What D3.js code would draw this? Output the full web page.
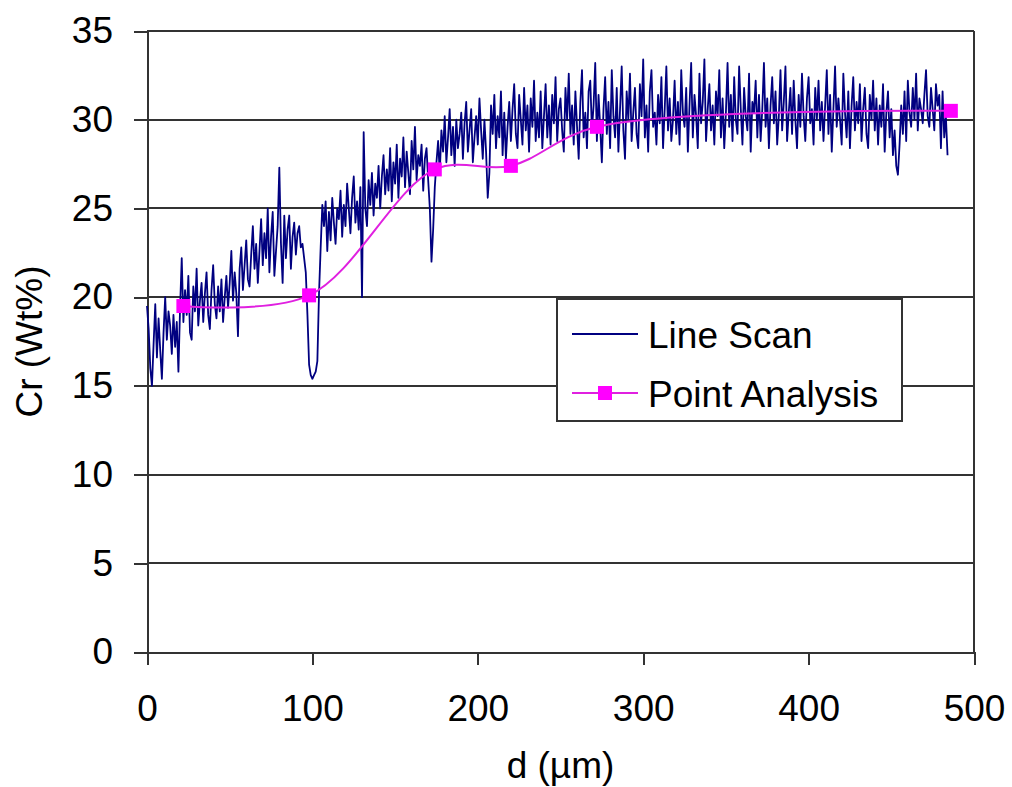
<!DOCTYPE html>
<meta charset="utf-8">
<head>
  <title>Cr line scan</title>
  <script src="https://d3js.org/d3.v7.min.js"></script>
  <style>
    body { margin: 0; background: #fff; }
    text { font-family: "Liberation Sans", Arial, sans-serif; fill: #000; }
    .axis path, .axis line { stroke: #333; stroke-width: 2; shape-rendering: crispEdges; }
    .axis text { font-size: 37px; }
    .grid line { stroke: #333; stroke-width: 2; shape-rendering: crispEdges; }
  </style>
</head>
<body>
<div id="chart"></div>
<script>

// tick labels
var xTicks = [0, 100, 200, 300, 400, 500];
var yTicks = [0, 5, 10, 15, 20, 25, 30, 35];

// line scan, one reading per µm from 0 to 484 µm (Cr, wt%), ten per row
var scanStep = 1;
var scanValues = [
  19.5, 18.2, 16.0, 15.0, 17.4, 19.6, 16.6, 18.8, 17.0, 15.4,
  18.0, 20.0, 17.6, 19.2, 18.4, 16.8, 19.0, 17.2, 18.6, 15.8,
  19.4, 22.2, 18.6, 20.4, 19.0, 21.2, 18.0, 17.6, 20.6, 19.2,
  21.6, 18.4, 19.8, 20.8, 18.6, 20.2, 21.4, 19.0, 18.2, 20.4,
  21.8, 19.6, 18.8, 20.6, 19.2, 21.0, 18.6, 20.0, 21.2, 19.4,
  20.8, 22.6, 19.8, 21.4, 20.2, 17.8, 21.6, 22.8, 20.4, 21.8,
  23.2, 21.0, 20.6, 22.4, 24.0, 21.6, 23.0, 20.8, 22.6, 24.4,
  21.8, 23.6, 22.2, 25.0, 21.4, 23.4, 24.8, 21.2, 22.6, 24.0,
  27.3, 23.0, 20.8, 24.6, 22.2, 23.8, 24.6, 21.6, 23.4, 24.2,
  22.4, 23.6, 24.0, 22.8, 23.0, 22.2, 21.4, 19.0, 16.2, 15.6,
  15.4, 15.6, 15.8, 16.4, 20.2, 22.8, 25.2, 24.0, 25.4, 22.6,
  24.8, 23.2, 25.6, 24.2, 23.0, 25.0, 24.4, 26.0, 23.4, 25.2,
  24.0, 26.4, 25.0, 23.6, 25.6, 26.8, 24.2, 25.4, 23.8, 26.2,
  20.0, 29.3, 25.0, 24.0, 26.6, 25.2, 27.0, 24.6, 26.4, 25.6,
  27.4, 25.0, 26.8, 28.0, 25.8, 27.2, 26.0, 28.4, 25.4, 27.6,
  26.4, 28.6, 25.6, 27.8, 26.8, 29.0, 26.2, 28.2, 27.0, 25.8,
  28.8, 27.2, 29.6, 26.6, 28.0, 27.4, 28.6, 26.0, 27.8, 28.4,
  26.6, 25.0, 22.0, 23.8, 26.2, 27.6, 28.8, 27.0, 29.4, 28.2,
  30.2, 27.6, 29.0, 30.6, 28.0, 29.6, 27.4, 30.0, 28.4, 29.2,
  30.4, 27.8, 29.8, 31.0, 28.2, 29.4, 30.6, 27.6, 29.0, 30.2,
  28.6, 31.2, 29.4, 27.8, 30.0, 28.2, 25.6, 27.0, 30.8, 29.2,
  31.4, 28.4, 30.2, 29.0, 31.6, 28.0, 30.4, 27.8, 29.6, 31.0,
  28.8, 30.6, 32.0, 29.2, 28.4, 31.4, 30.0, 28.6, 31.8, 29.4,
  30.8, 28.2, 31.2, 29.6, 32.2, 28.8, 30.4, 29.0, 31.6, 28.4,
  30.2, 32.0, 29.0, 30.8, 28.6, 31.4, 29.8, 32.4, 28.8, 30.6,
  31.2, 29.4, 28.2, 31.8, 30.0, 32.6, 29.2, 30.8, 28.6, 31.6,
  29.6, 27.8, 31.0, 32.8, 29.0, 30.4, 28.4, 31.6, 32.2, 29.4,
  30.8, 33.2, 28.8, 31.4, 29.6, 27.6, 30.6, 32.4, 29.2, 31.0,
  28.4, 32.8, 30.2, 29.0, 31.8, 28.2, 30.6, 33.0, 29.4, 27.8,
  31.6, 30.0, 32.6, 28.8, 30.4, 31.8, 29.2, 28.4, 32.0, 30.2,
  33.4, 29.0, 30.8, 28.2, 31.6, 32.8, 29.6, 30.4, 28.6, 31.4,
  29.8, 32.4, 28.4, 30.6, 33.0, 29.4, 31.2, 28.8, 30.0, 32.2,
  29.2, 31.0, 28.6, 32.8, 30.4, 29.6, 31.8, 28.2, 30.8, 33.2,
  29.0, 31.4, 30.2, 28.4, 32.6, 29.8, 31.0, 33.4, 28.8, 30.6,
  32.0, 29.4, 30.8, 28.6, 31.6, 30.2, 32.8, 29.0, 31.2, 28.4,
  30.4, 33.2, 29.6, 31.4, 28.8, 32.4, 30.0, 29.2, 33.0, 30.6,
  28.6, 31.8, 30.2, 29.4, 32.6, 28.2, 31.0, 30.4, 32.2, 29.0,
  31.4, 28.8, 30.6, 33.2, 29.6, 31.2, 28.4, 30.8, 32.4, 29.8,
  31.6, 28.6, 30.2, 32.8, 29.4, 31.0, 33.0, 28.8, 30.4, 31.8,
  29.2, 32.2, 30.0, 28.4, 31.4, 29.6, 32.6, 30.2, 28.8, 31.2,
  32.4, 29.8, 30.6, 28.6, 31.8, 30.0, 32.2, 29.4, 31.0, 28.8,
  30.8, 32.8, 29.2, 31.4, 28.2, 30.6, 33.0, 29.6, 31.2, 30.0,
  28.6, 32.6, 30.4, 29.0, 31.6, 28.4, 30.8, 32.4, 29.4, 31.0,
  29.8, 32.0, 28.8, 30.6, 31.8, 29.2, 28.4, 31.4, 30.0, 32.2,
  29.4, 31.2, 28.6, 30.8, 29.6, 32.0, 28.2, 30.4, 31.6, 29.0,
  30.6, 28.0, 29.4, 27.4, 26.9, 28.6, 30.8, 29.2, 31.6, 28.8,
  32.2, 30.4, 29.6, 31.8, 30.0, 32.6, 29.4, 31.2, 30.6, 29.8,
  31.4, 32.8, 30.2, 29.6, 31.8, 30.6, 29.4, 32.0, 30.8, 31.4,
  28.4, 31.6, 29.0, 30.2, 28.0
];

// point analysis
var pointD = [22, 98, 174, 220, 272, 486];
var pointCr = [19.5, 20.1, 27.2, 27.4, 29.6, 30.5];

var scan = scanValues.map(function(v, i) { return {d: i * scanStep, cr: v}; });
var points = pointD.map(function(d, i) { return {d: d, cr: pointCr[i]}; });

var margin = {top: 31, right: 38, bottom: 135, left: 147},
    width = 1012 - margin.left - margin.right,
    height = 787 - margin.top - margin.bottom;

var svg = d3.select("#chart")
  .append("svg")
    .attr("width", 1012)
    .attr("height", 787)
  .append("g")
    .attr("transform", "translate(" + margin.left + "," + margin.top + ")");

var x = d3.scaleLinear().domain([0, 500]).range([0, width]);
var y = d3.scaleLinear().domain([0, 35]).range([height, 0]);

// gridlines
svg.append("g")
    .attr("class", "grid")
  .selectAll("line")
  .data(yTicks.slice(1))
  .enter().append("line")
    .attr("x1", 0)
    .attr("x2", width)
    .attr("y1", function(d) { return y(d); })
    .attr("y2", function(d) { return y(d); });

// right border
svg.append("line")
    .attr("x1", width).attr("x2", width)
    .attr("y1", 0).attr("y2", height)
    .attr("stroke", "#333").attr("stroke-width", 2);

// axes
svg.append("g")
    .attr("class", "axis")
    .attr("transform", "translate(0," + height + ")")
    .call(d3.axisBottom(x).tickValues(xTicks).tickSize(13).tickPadding(30).tickSizeOuter(0));

svg.append("g")
    .attr("class", "axis")
    .call(d3.axisLeft(y).tickValues(yTicks).tickSize(13).tickPadding(21).tickSizeOuter(0));

// line scan
var scanLine = d3.line()
    .x(function(d) { return x(d.d); })
    .y(function(d) { return y(d.cr); });

svg.append("path")
    .datum(scan)
    .attr("fill", "none")
    .attr("stroke", "#000080")
    .attr("stroke-width", 1.8)
    .attr("stroke-linejoin", "round")
    .attr("d", scanLine);

// point analysis (smoothed line + square markers)
var pointLine = d3.line()
    .curve(d3.curveCatmullRom.alpha(0.5))
    .x(function(d) { return x(d.d); })
    .y(function(d) { return y(d.cr); });

svg.append("path")
    .datum(points)
    .attr("fill", "none")
    .attr("stroke", "#e020e0")
    .attr("stroke-width", 2)
    .attr("d", pointLine);

svg.selectAll(".pt")
  .data(points)
  .enter().append("rect")
    .attr("class", "pt")
    .attr("x", function(d) { return x(d.d) - 7; })
    .attr("y", function(d) { return y(d.cr) - 7; })
    .attr("width", 14)
    .attr("height", 14)
    .attr("fill", "#ff00ff");

// axis titles
svg.append("text")
    .attr("x", width / 2)
    .attr("y", height + 126)
    .attr("text-anchor", "middle")
    .style("font-size", "37px")
    .text("d (µm)");

svg.append("text")
    .attr("transform", "translate(" + (42 - margin.left) + "," + (height / 2) + ") rotate(-90)")
    .attr("text-anchor", "middle")
    .style("font-size", "37px")
    .text("Cr (Wt%)");

// legend
var legend = svg.append("g")
    .attr("transform", "translate(" + (557 - margin.left) + "," + (299 - margin.top) + ")");

legend.append("rect")
    .attr("width", 345)
    .attr("height", 122)
    .attr("fill", "#fff")
    .attr("stroke", "#333")
    .attr("stroke-width", 2);

legend.append("line")
    .attr("x1", 15).attr("x2", 81)
    .attr("y1", 35).attr("y2", 35)
    .attr("stroke", "#000080").attr("stroke-width", 2);

legend.append("text")
    .attr("x", 91).attr("y", 49)
    .style("font-size", "37px")
    .text("Line Scan");

legend.append("line")
    .attr("x1", 15).attr("x2", 81)
    .attr("y1", 94).attr("y2", 94)
    .attr("stroke", "#e020e0").attr("stroke-width", 2);

legend.append("rect")
    .attr("x", 41).attr("y", 87)
    .attr("width", 14).attr("height", 14)
    .attr("fill", "#ff00ff");

legend.append("text")
    .attr("x", 91).attr("y", 108)
    .style("font-size", "37px")
    .text("Point Analysis");

</script>
</body>
</html>
